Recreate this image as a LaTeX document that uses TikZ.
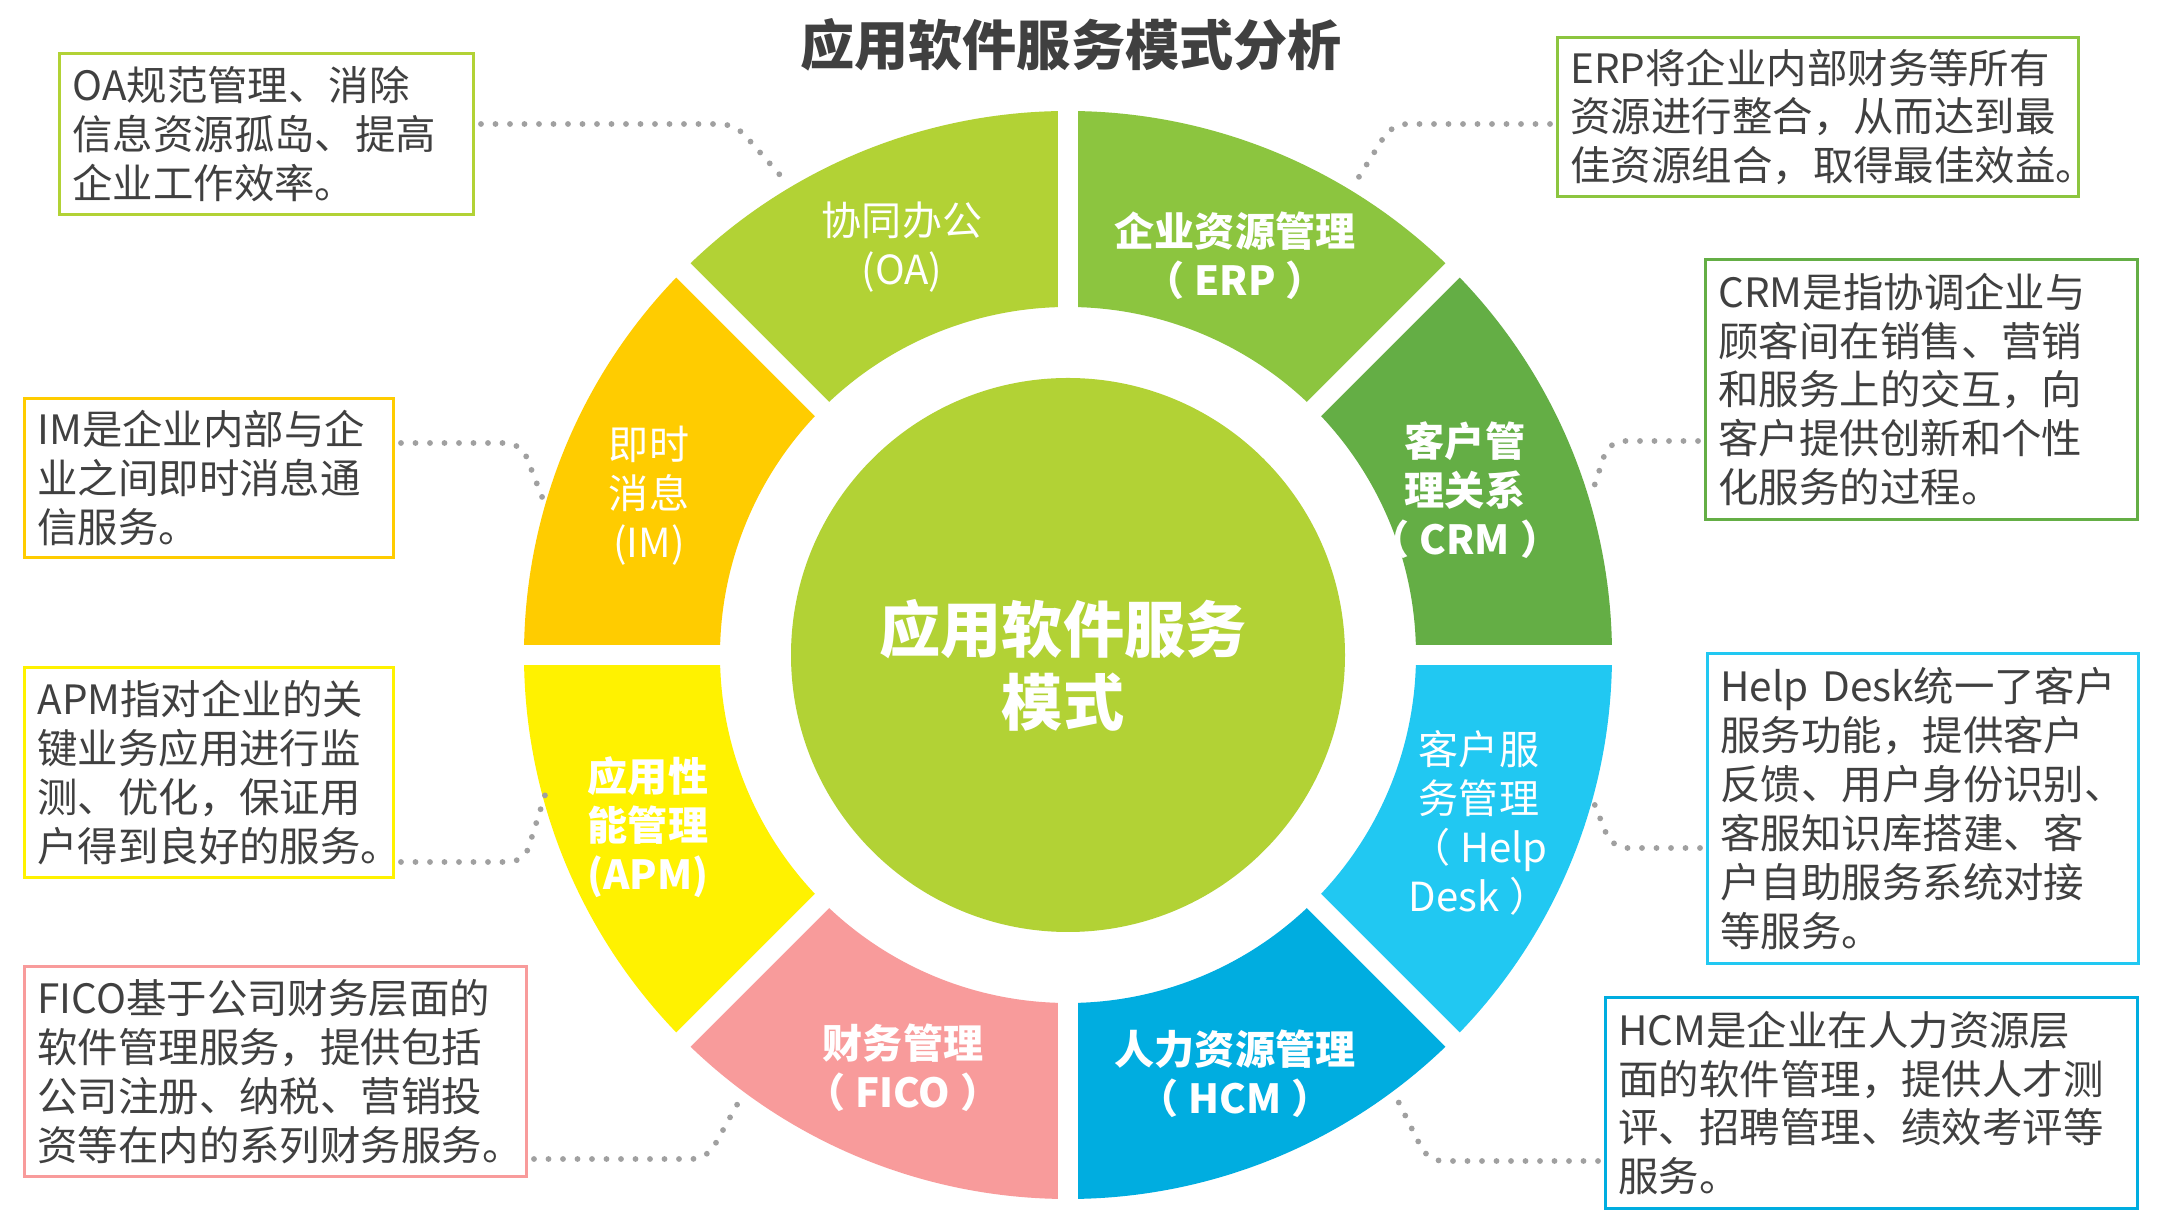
\documentclass[tikz,border=0pt]{standalone}
\usepackage{fontspec}
\setmainfont{Noto Sans CJK SC}

\definecolor{oagreen}{HTML}{B2D235}
\definecolor{erpgreen}{HTML}{8CC53F}
\definecolor{crmgreen}{HTML}{64AE45}
\definecolor{hdblue}{HTML}{21C8F2}
\definecolor{hcmblue}{HTML}{00ADE0}
\definecolor{ficopink}{HTML}{F89B9B}
\definecolor{apmyellow}{HTML}{FFF200}
\definecolor{imgold}{HTML}{FFCC00}
\definecolor{textgray}{HTML}{404040}
\definecolor{dotgray}{HTML}{A0A0A0}

\begin{document}
\begin{tikzpicture}[x=0.1mm, y=0.1mm,
	descbox/.style={draw=#1, line width=0.85pt, fill=white, anchor=north west, align=left,
		inner xsep=1.3mm, inner ysep=0pt, text=textgray, font=\fontsize{11.5}{13.9}\selectfont},
	seglabel/.style={text=white, align=center, font=\fontsize{11.4}{13.9}\selectfont},
	boldlabel/.style={text=white, align=center, font=\fontsize{11.4}{13.9}\selectfont\bfseries},
	dotline/.style={dotgray, line width=0.58mm, line cap=round, dash pattern=on 0pt off 1.45mm, rounded corners=1.5mm}]

\useasboundingbox (0,0) rectangle (2159,1217);
\fill[white] (0,0) rectangle (2159,1217);

\def\rin{348}
\def\rout{544}

% connectors, drawn first so the ring sits on top
\coordinate (oabend) at (735,1093);   \coordinate (oaend) at (787,1034);
\coordinate (imbend) at (521,774);    \coordinate (imend) at (546,710);
\coordinate (apmbend) at (524,355);   \coordinate (apmend) at (546,425);
\coordinate (ficobend) at (707,58);   \coordinate (ficoend) at (743,123);
\coordinate (erpbend) at (1392,1093); \coordinate (erpend) at (1357,1037);
\coordinate (crmbend) at (1609,776);  \coordinate (crmend) at (1591,721);
\coordinate (hdbend) at (1612,369);   \coordinate (hdend) at (1592,419);
\coordinate (hcmbend) at (1428,56);   \coordinate (hcmend) at (1396,120);

% ring of eight parts
\begin{scope}[shift={(1068,562)}]
\foreach \a/\col in {0/crmgreen, 45/erpgreen, 90/oagreen, 135/imgold, 180/apmyellow, 225/ficopink, 270/hcmblue, 315/hdblue}
	\fill[\col] (\a:\rin) arc (\a:\a+45:\rin) -- (\a+45:\rout) arc (\a+45:\a:\rout) -- cycle;
\foreach \a in {0,45,...,315}
	\draw[white, line width=2mm] (\a:330) -- (\a:560);
\fill[oagreen] (0,0) circle (277);
\end{scope}

\node[font=\fontsize{15.4}{18}\selectfont\bfseries, text=textgray] (title) at (1071,1172) {应用软件服务模式分析};
\node[font=\fontsize{17.4}{20.8}\selectfont\bfseries, text=white, align=center] (hub) at (1063,552) {应用软件服务\\模式};

\node[seglabel] (oa) at (902,970) {协同办公\\(OA)};
\node[boldlabel] (erp) at (1235,961) {企业资源管理\\（\hspace{.25em}ERP\hspace{.25em}）};
\node[boldlabel] (crm) at (1465,727) {客户管\\理关系\\（\hspace{.25em}CRM\hspace{.25em}）};
\node[seglabel] (hd) at (1479,394) {客户服\\务管理\\（\hspace{.25em}Help\\Desk\hspace{.25em}）};
\node[boldlabel] (hcm) at (1235,143) {人力资源管理\\（\hspace{.25em}HCM\hspace{.25em}）};
\node[boldlabel] (fico) at (903,149) {财务管理\\（\hspace{.25em}FICO\hspace{.25em}）};
\node[boldlabel] (apm) at (648,390) {应用性\\能管理\\(APM)};
\node[seglabel] (im) at (649,721) {即时\\消息\\(IM)};

% boxes
\node[descbox=oagreen, text width=38.8mm, minimum height=16.1mm] (oabox) at (58,1165)
	{OA规范管理、消除\\信息资源孤岛、提高\\企业工作效率。};
\node[descbox=imgold, text width=34.3mm, minimum height=15.9mm] (imbox) at (23,820)
	{IM是企业内部与企\\业之间即时消息通\\信服务。};
\node[descbox=apmyellow, text width=34.3mm, minimum height=21mm] (apmbox) at (23,551)
	{APM指对企业的关\\键业务应用进行监\\测、优化，保证用\\户得到良好的服务。};
\node[descbox=ficopink, text width=47.6mm, minimum height=21mm] (ficobox) at (23,252)
	{FICO基于公司财务层面的\\软件管理服务，提供包括\\公司注册、纳税、营销投\\资等在内的系列财务服务。};
\node[descbox=erpgreen, text width=49.5mm, minimum height=15.9mm] (erpbox) at (1556,1181)
	{ERP将企业内部财务等所有\\资源进行整合，从而达到最\\佳资源组合，取得最佳效益。};
\node[descbox=crmgreen, text width=40.6mm, minimum height=26mm] (crmbox) at (1704,959)
	{CRM是指协调企业与\\顾客间在销售、营销\\和服务上的交互，向\\客户提供创新和个性\\化服务的过程。};
\node[descbox=hdblue, text width=40.5mm, minimum height=31mm] (hdbox) at (1706,565)
	{Help Desk统一了客户\\服务功能，提供客户\\反馈、用户身份识别、\\客服知识库搭建、客\\户自助服务系统对接\\等服务。};
\node[descbox=hcmblue, text width=50.6mm, minimum height=21.1mm] (hcmbox) at (1604,221)
	{HCM是企业在人力资源层\\面的软件管理，提供人才测\\评、招聘管理、绩效考评等\\服务。};

\draw[dotline] ([xshift=0.6mm]oabox.east |- oabend) -- (oabend) -- (oaend);
\draw[dotline] ([xshift=0.6mm]imbox.east |- imbend) -- (imbend) -- (imend);
\draw[dotline] ([xshift=0.6mm]apmbox.east |- apmbend) -- (apmbend) -- (apmend);
\draw[dotline] ([xshift=0.6mm]ficobox.east |- ficobend) -- (ficobend) -- (ficoend);
\draw[dotline] ([xshift=-0.6mm]erpbox.west |- erpbend) -- (erpbend) -- (erpend);
\draw[dotline] ([xshift=-0.6mm]crmbox.west |- crmbend) -- (crmbend) -- (crmend);
\draw[dotline] ([xshift=-0.6mm]hdbox.west |- hdbend) -- (hdbend) -- (hdend);
\draw[dotline] ([xshift=-0.6mm]hcmbox.west |- hcmbend) -- (hcmbend) -- (hcmend);

\end{tikzpicture}
\end{document}
